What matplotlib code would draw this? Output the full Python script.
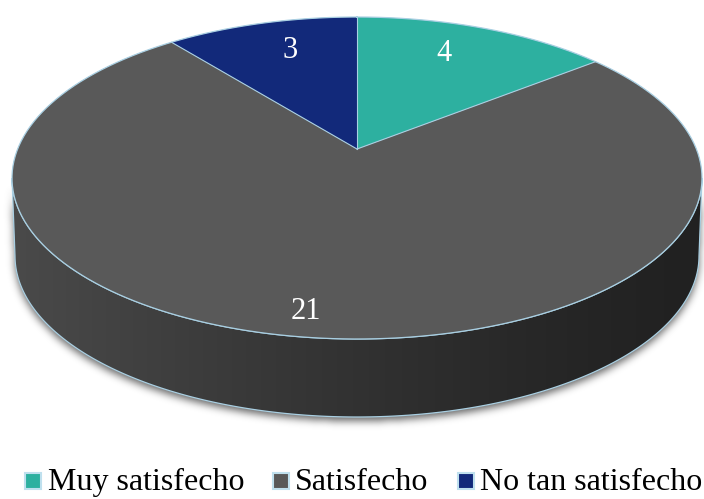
import numpy as np
import matplotlib
matplotlib.use("Agg")
import matplotlib.pyplot as plt
from matplotlib.patches import Polygon, Rectangle
from matplotlib.path import Path

# Survey results
categories = ["Muy satisfecho", "Satisfecho", "No tan satisfecho"]
values = [4, 21, 3]
colors = ["#2DB0A0", "#595959", "#12297A"]

# Canvas in pixel units
W, H = 704, 499
CX, CY = 357.0, 178.0        # centre of the top ellipse
RX, RY = 345.0, 161.0        # semi-axes of the top ellipse
TILT = np.arctanh(-0.18)     # perspective shift of the pie centre
DEPTH = 78.0                 # thickness of the disc
RIM = "#A9CFE2"
SERIF = "Liberation Serif"


def project(r, theta_deg):
    """Map polar coordinates on the pie disc (clockwise from 12 o'clock)
    onto the tilted top face, using a projective map of the unit circle."""
    th = np.radians(theta_deg)
    u = r * np.sin(th)
    v = -r * np.cos(th)
    ch, sh = np.cosh(TILT), np.sinh(TILT)
    w = sh * v + ch
    return CX + RX * u / w, CY + RY * (ch * v + sh) / w


def ellipse(phi_deg, cx, cy, rx, ry):
    p = np.radians(phi_deg)
    return cx + rx * np.sin(p), cy - ry * np.cos(p)


def blur(img, sigma):
    k = int(3 * sigma)
    xs = np.arange(-k, k + 1)
    g = np.exp(-xs ** 2 / (2 * sigma ** 2))
    g /= g.sum()
    out = np.apply_along_axis(lambda r: np.convolve(r, g, mode="same"), 1, img)
    out = np.apply_along_axis(lambda c: np.convolve(c, g, mode="same"), 0, out)
    return out


fig = plt.figure(figsize=(W / 100, H / 100), dpi=100)
ax = fig.add_axes([0, 0, 1, 1])
ax.set_xlim(0, W)
ax.set_ylim(H, 0)
ax.axis("off")

# ---- side wall of the disc (front half only is visible) ----
phi_top = np.linspace(90, 270, 200)
tx, ty = ellipse(phi_top, CX, CY, RX, RY)
bx, by = ellipse(phi_top[::-1], CX, CY + DEPTH, RX - 3, RY)
side_pts = np.column_stack([np.r_[tx, bx], np.r_[ty, by]])

# soft drop shadow under the wall
gx, gy = np.meshgrid(np.arange(W) + 0.5, np.arange(H) + 0.5)
shadow_path = Path(side_pts + np.array([0.0, 4.0]))
mask = shadow_path.contains_points(np.column_stack([gx.ravel(), gy.ravel()]))
mask = mask.reshape(H, W).astype(float)
soft = blur(mask, 4.0)
shadow = np.zeros((H, W, 4))
shadow[..., 3] = 0.6 * soft
ax.imshow(shadow, extent=(0, W, H, 0), origin="upper",
          interpolation="bilinear", zorder=1)

# wall with horizontal lighting gradient
side_patch = Polygon(side_pts, closed=True, facecolor="none",
                     edgecolor="none", zorder=2)
ax.add_patch(side_patch)
xs = np.linspace(0, 1, W)
shade = (0x21 + (0x4B - 0x21) * (1 - xs) ** 1.3) / 255.0
grad = np.repeat(np.stack([shade, shade, shade], axis=-1)[None, :, :], 2, axis=0)
im = ax.imshow(grad, extent=(0, W, CY + DEPTH + RY + 5, CY - 5),
               origin="upper", interpolation="bilinear", zorder=2)
im.set_clip_path(side_patch)
ax.add_patch(Polygon(side_pts, closed=True, facecolor="none",
                     edgecolor=RIM, lw=0.9, zorder=3))

# ---- top face slices ----
apex = project(0.0, 0.0)
total = float(sum(values))
start = 0.0
label_radius = [0.75, 0.885, 0.75]
label_shift = [-3.0, 1.8, 2.0]   # degrees, nudges labels toward 12 o'clock
for val, col, lr, ls in zip(values, colors, label_radius, label_shift):
    span = 360.0 * val / total
    th = np.linspace(start, start + span, max(int(span * 2), 10))
    ex, ey = project(1.0, th)
    pts = np.column_stack([np.r_[apex[0], ex], np.r_[apex[1], ey]])
    ax.add_patch(Polygon(pts, closed=True, facecolor=col, edgecolor="none",
                         zorder=4))
    lx, ly = project(lr, start + span / 2 + ls)
    ax.text(lx, ly, str(val), color="white", fontsize=22, family=SERIF,
            ha="center", va="center", zorder=6)
    # boundary line from centre to rim
    bx0, by0 = project(1.0, start)
    ax.plot([apex[0], bx0], [apex[1], by0], color=RIM, lw=0.8, zorder=5)
    start += span

# rim of the top face
rx_, ry_ = ellipse(np.linspace(0, 360, 400), CX, CY, RX, RY)
ax.plot(rx_, ry_, color=RIM, lw=0.9, zorder=5)

# ---- legend ----
sq_x = [25, 273, 458]
tx_x = [48, 295, 480]
for name, col, sx, txx in zip(categories, colors, sq_x, tx_x):
    ax.add_patch(Rectangle((sx, 473), 16, 16, facecolor=col,
                           edgecolor="#BFE0EE", lw=1.5, zorder=6))
    ax.text(txx, 490, name, fontsize=23, family=SERIF, color="black",
            ha="left", va="baseline", zorder=6)

fig.savefig("out.png", dpi=100)
